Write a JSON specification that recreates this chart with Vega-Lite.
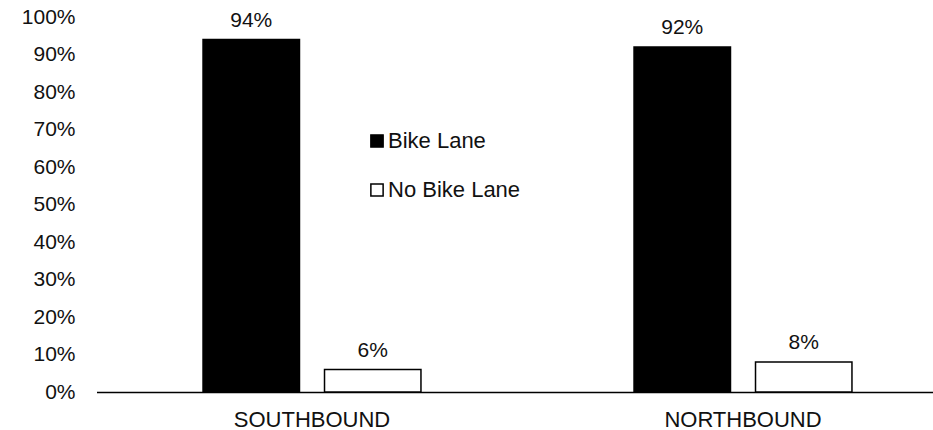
{
  "$schema": "https://vega.github.io/schema/vega-lite/v6.json",
  "autosize": "none",
  "width": 838,
  "height": 375,
  "padding": {"left": 95, "top": 17, "right": 0, "bottom": 38},
  "background": "white",
  "config": {
    "view": {"stroke": null},
    "font": "Liberation Sans",
    "axis": {"labelFont": "Liberation Sans", "labelColor": "#111", "labelFontSize": 21, "grid": false}
  },
  "data": {
    "values": [
      {"direction": "SOUTHBOUND", "lane": "Bike Lane", "share": 0.94},
      {"direction": "SOUTHBOUND", "lane": "No Bike Lane", "share": 0.06},
      {"direction": "NORTHBOUND", "lane": "Bike Lane", "share": 0.92},
      {"direction": "NORTHBOUND", "lane": "No Bike Lane", "share": 0.08}
    ]
  },
  "encoding": {
    "x": {
      "field": "direction", "type": "nominal", "sort": ["SOUTHBOUND", "NORTHBOUND"],
      "scale": {"range": [1.5, 863.5], "paddingInner": 0, "paddingOuter": 0},
      "axis": {"title": null, "labelAngle": 0, "ticks": false, "domainColor": "#000", "domainWidth": 1.5, "labelPadding": 27, "labelBaseline": "middle", "labelFontSize": 22}
    },
    "xOffset": {
      "field": "lane", "type": "nominal", "sort": ["Bike Lane", "No Bike Lane"],
      "scale": {"paddingInner": 0.206, "paddingOuter": 0.877}
    },
    "y": {
      "field": "share", "type": "quantitative",
      "scale": {"domain": [0, 1], "nice": false},
      "axis": {"title": null, "format": ".0%", "values": [0, 0.1, 0.2, 0.3, 0.4, 0.5, 0.6, 0.7, 0.8, 0.9, 1.0], "domain": false, "ticks": false, "labelPadding": 20, "labelBaseline": "middle"}
    }
  },
  "layer": [
    {
      "mark": {"type": "bar", "stroke": "#000", "strokeWidth": 1.5},
      "encoding": {
        "fill": {
          "field": "lane", "type": "nominal", "sort": ["Bike Lane", "No Bike Lane"],
          "scale": {"domain": ["Bike Lane", "No Bike Lane"], "range": ["#000000", "#ffffff"]},
          "legend": {
            "title": null, "orient": "none", "legendX": 271, "legendY": 113,
            "symbolType": "square", "symbolSize": 150, "symbolStrokeColor": "#000", "symbolStrokeWidth": 1.5,
            "labelFontSize": 22, "labelFont": "Liberation Sans", "labelColor": "#111", "labelOffset": 0,
            "rowPadding": 27
          }
        }
      }
    },
    {
      "mark": {"type": "text", "dy": -13, "baseline": "alphabetic", "fontSize": 21, "font": "Liberation Sans", "color": "#111"},
      "encoding": {
        "text": {"field": "share", "type": "quantitative", "format": ".0%"}
      }
    }
  ]
}
